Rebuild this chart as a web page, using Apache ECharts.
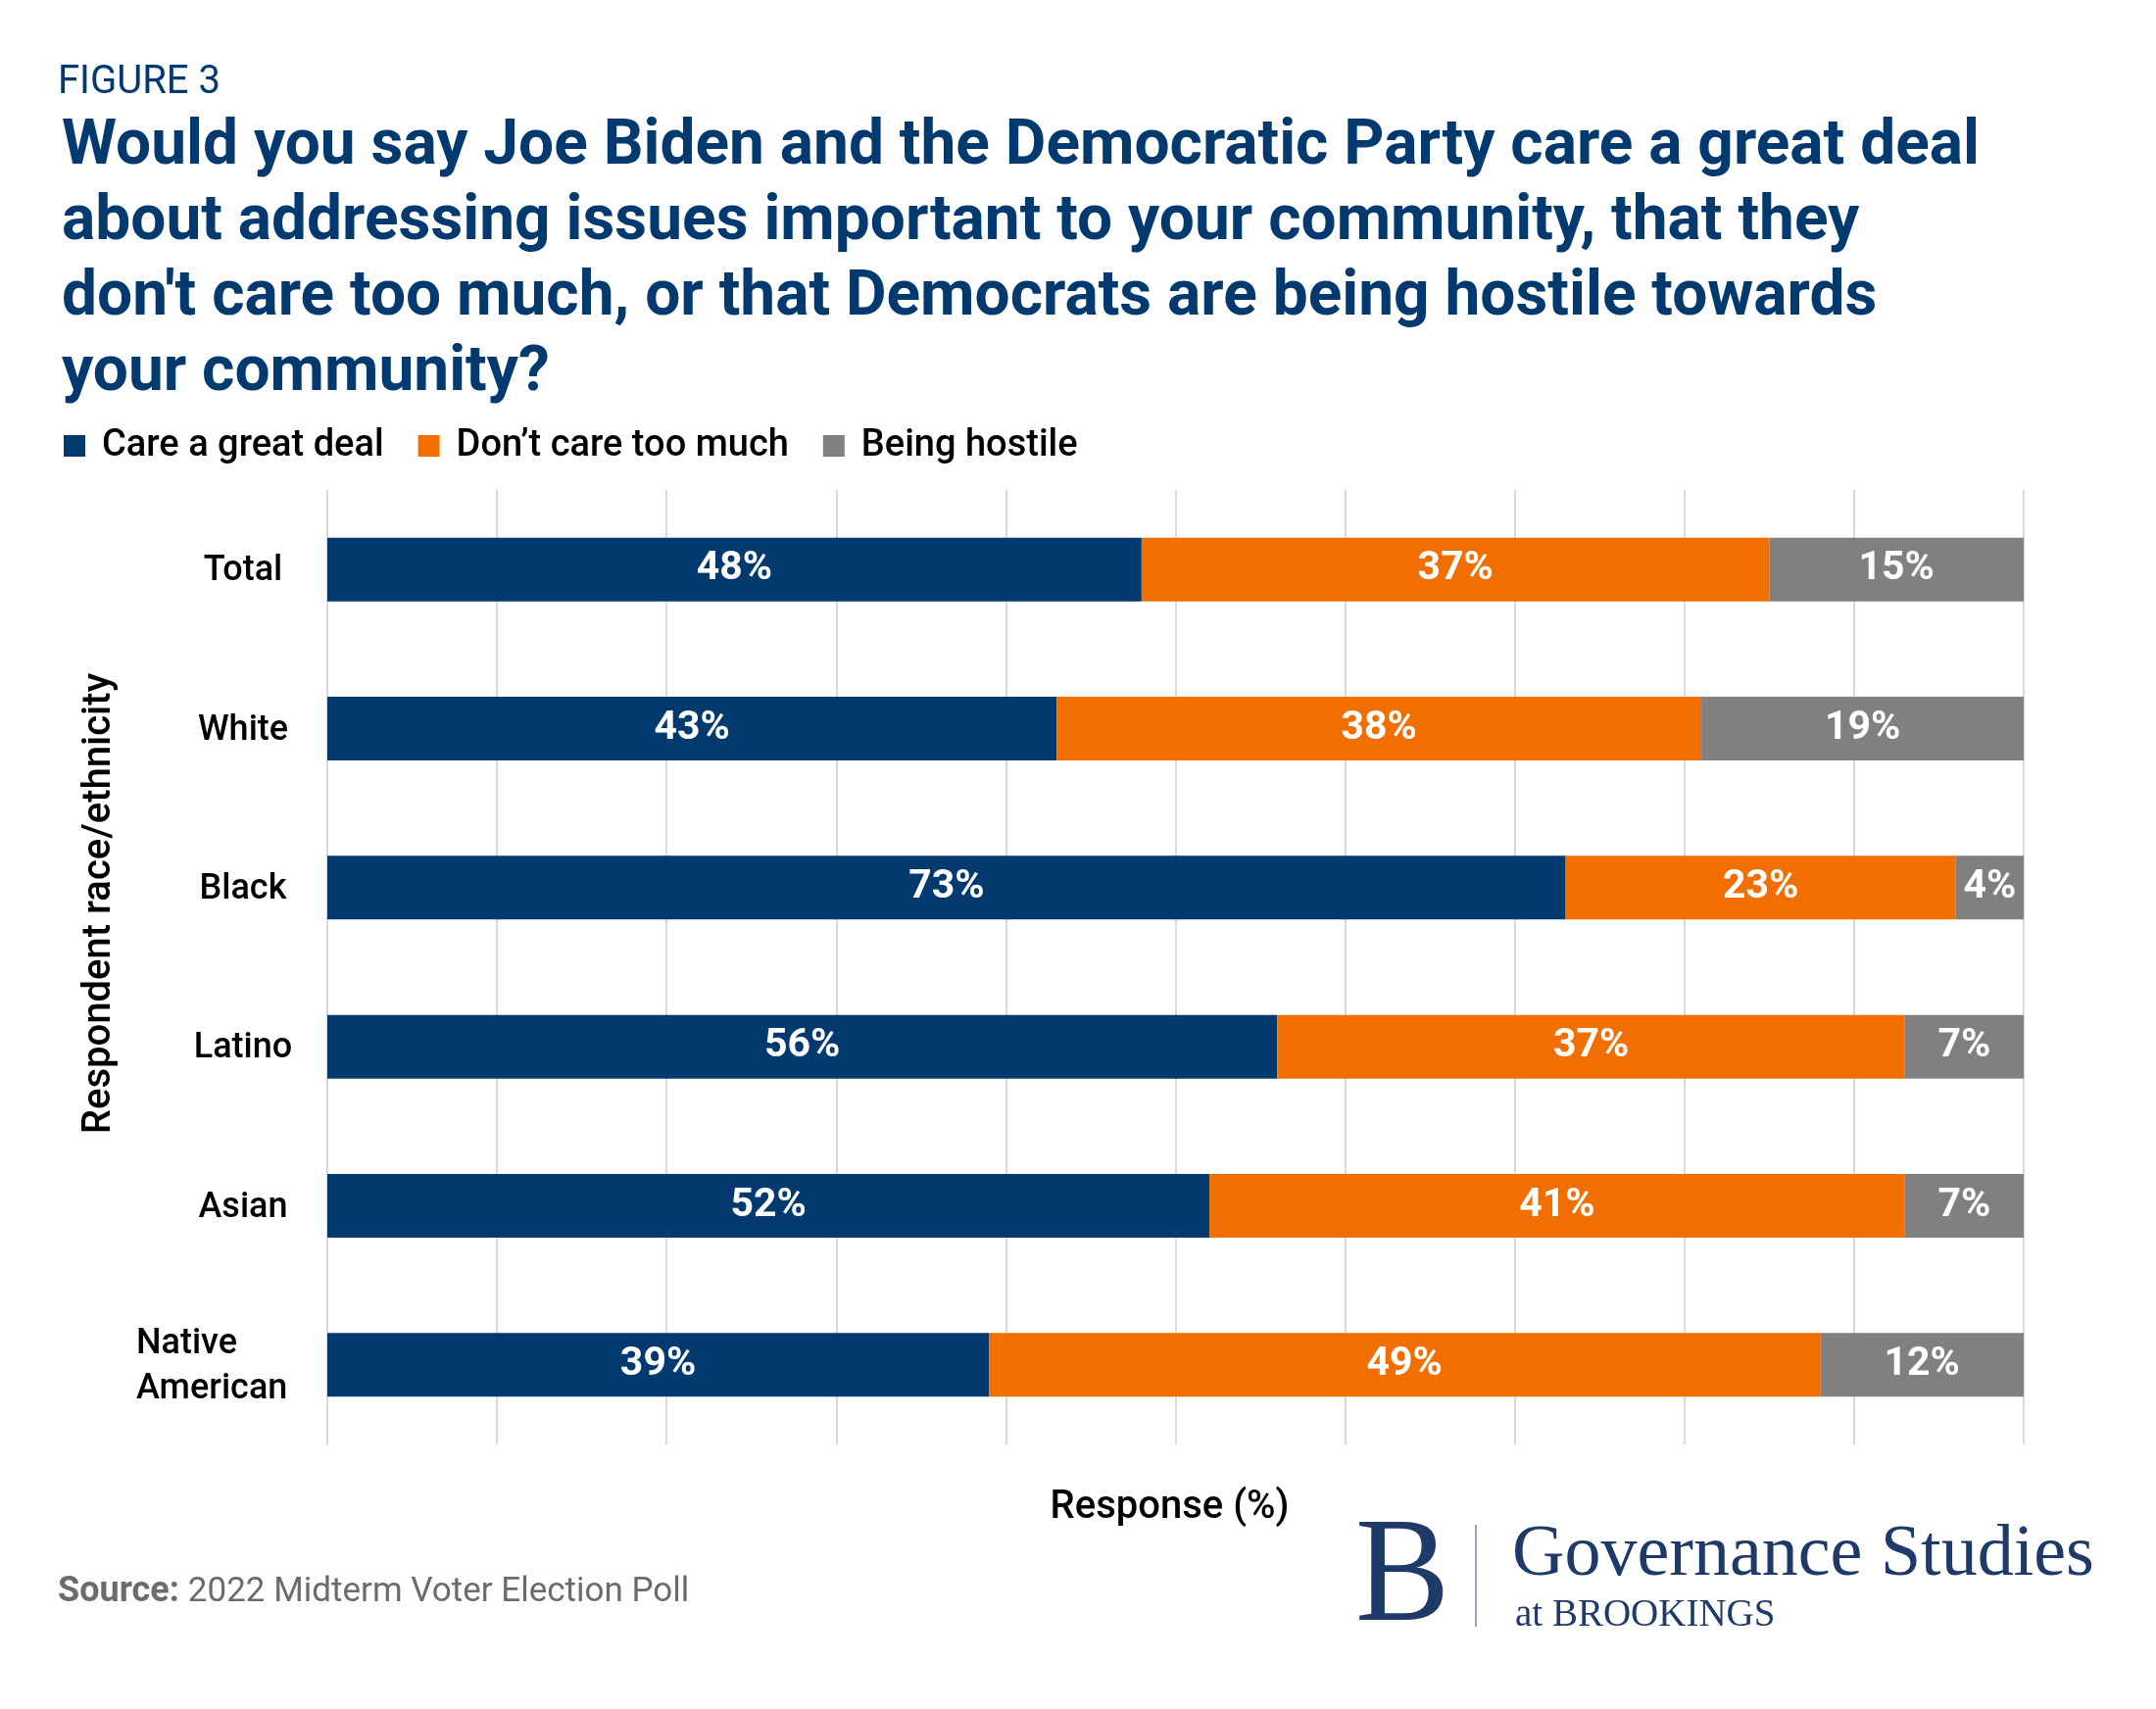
<!DOCTYPE html>
<html>
<head>
<meta charset="utf-8">
<script src="https://cdn.jsdelivr.net/npm/echarts@6/dist/echarts.min.js"></script>
<style>
html,body{margin:0;padding:0;background:#fff;}
#chart{width:2200px;height:1744px;}
</style>
</head>
<body>
<div id="chart"></div>
<script>
const categories = ['Total', 'White', 'Black', 'Latino', 'Asian', 'Native American'];
const seriesNames = ['Care a great deal', 'Don\u2019t care too much', 'Being hostile'];
const careGreatDeal = [48, 43, 73, 56, 52, 39];
const dontCareTooMuch = [37, 38, 23, 37, 41, 49];
const beingHostile = [15, 19, 4, 7, 7, 12];
const xTicks = [0, 10, 20, 30, 40, 50, 60, 70, 80, 90, 100];

const NAVY = '#023a6f';
const ORANGE = '#f06f00';
const GRAY = '#808080';
const FONT = 'Roboto';

const chart = echarts.init(document.getElementById('chart'), null, {renderer: 'canvas'});

function seg(name, data, color) {
  return {
    name: name,
    type: 'bar',
    stack: 'total',
    data: data,
    barWidth: 65,
    itemStyle: {color: color},
    label: {
      show: true,
      position: 'inside',
      formatter: function (p) { return p.value + '%'; },
      color: '#fff',
      fontFamily: FONT,
      fontWeight: 'bold',
      fontSize: 41
    },
    emphasis: {disabled: true}
  };
}

const option = {
  backgroundColor: '#ffffff',
  animation: false,
  textStyle: {fontFamily: FONT},
  title: [
    {
      text: 'FIGURE 3',
      left: 54, top: 60,
      textStyle: {fontFamily: FONT, fontSize: 40, fontWeight: 'normal', color: NAVY, lineHeight: 40}
    },
    {
      text: 'Would you say Joe Biden and the Democratic Party care a great deal\nabout addressing issues important to your community, that they\ndon\'t care too much, or that Democrats are being hostile towards\nyour community?',
      left: 58, top: 107,
      textStyle: {fontFamily: FONT, fontSize: 64, fontWeight: 'bold', color: NAVY, lineHeight: 77}
    },
    {
      text: '{b|Source:}{r|2022 Midterm Voter Election Poll}',
      left: 54, top: 1602,
      textStyle: {
        rich: {
          b: {fontFamily: FONT, fontSize: 36, fontWeight: 'bold', color: '#6b6b6b', lineHeight: 36},
          r: {fontFamily: FONT, fontSize: 35, fontWeight: 'normal', color: '#6b6b6b', lineHeight: 36, padding: [0, 0, 0, 9]}
        }
      }
    }
  ],
  legend: {
    data: seriesNames,
    left: 60, top: 431,
    icon: 'rect',
    itemWidth: 22, itemHeight: 22,
    itemGap: 35,
    selectedMode: false,
    textStyle: {fontFamily: FONT, fontSize: 38, fontWeight: 500, color: '#000', padding: [0, 0, 0, 12]}
  },
  grid: {left: 334, right: 135, top: 500, bottom: 270, containLabel: false},
  xAxis: {
    type: 'value',
    min: xTicks[0], max: xTicks[xTicks.length - 1], interval: xTicks[1] - xTicks[0],
    axisLabel: {show: false},
    axisLine: {show: false},
    axisTick: {show: false},
    splitLine: {show: true, lineStyle: {color: '#d9d9d9', width: 2}},
    name: 'Response (%)',
    nameLocation: 'middle',
    nameGap: 45,
    nameTextStyle: {fontFamily: FONT, fontSize: 40, fontWeight: 500, color: '#000', padding: [0, 12, 0, 0]}
  },
  yAxis: {
    type: 'category',
    inverse: true,
    data: categories,
    axisLine: {show: false},
    axisTick: {show: false},
    axisLabel: {
      margin: 86,
      align: 'center',
      color: '#000',
      fontFamily: FONT,
      fontSize: 36,
      fontWeight: 500,
      padding: [4, 0, 0, 0],
      formatter: function (v) {
        if (v === 'Native American') return '{l|Native}\n{l|American}';
        return v;
      },
      rich: {
        l: {fontFamily: FONT, fontSize: 36, fontWeight: 500, color: '#000', width: 218, align: 'left', lineHeight: 46}
      }
    }
  },
  graphic: [
    {
      type: 'text',
      x: 102, y: 922,
      rotation: Math.PI / 2,
      style: {
        text: 'Respondent race/ethnicity',
        fontFamily: FONT, fontSize: 40, fontWeight: 500, fill: '#000',
        align: 'center', verticalAlign: 'middle'
      }
    },
    {
      type: 'text',
      x: 1383, y: 1613,
      scaleX: 0.95,
      style: {
        text: 'B',
        fontFamily: 'Liberation Serif', fontSize: 152, fontWeight: 'normal', fill: '#1f3a68',
        align: 'left', verticalAlign: 'middle'
      }
    },
    {
      type: 'line',
      shape: {x1: 1506, y1: 1556, x2: 1506, y2: 1660},
      style: {stroke: '#9aa5b8', lineWidth: 2}
    },
    {
      type: 'text',
      x: 1543, y: 1588,
      style: {
        text: 'Governance Studies',
        fontFamily: 'Liberation Serif', fontSize: 74, fill: '#1f3a68',
        align: 'left', verticalAlign: 'middle'
      }
    },
    {
      type: 'text',
      x: 1546, y: 1649,
      style: {
        text: 'at BROOKINGS',
        fontFamily: 'Liberation Serif', fontSize: 39, fill: '#1f3a68',
        align: 'left', verticalAlign: 'middle'
      }
    }
  ],
  series: [
    seg(seriesNames[0], careGreatDeal, NAVY),
    seg(seriesNames[1], dontCareTooMuch, ORANGE),
    seg(seriesNames[2], beingHostile, GRAY)
  ]
};

chart.setOption(option);
</script>
</body>
</html>
